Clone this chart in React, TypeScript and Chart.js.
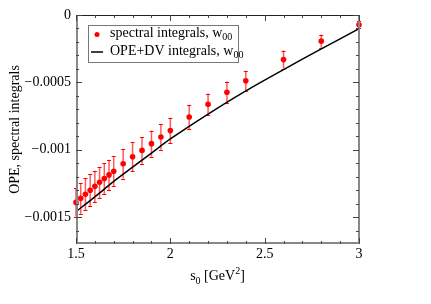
import React, { useEffect, useRef } from 'react';
import { Chart, registerables } from 'chart.js';

Chart.register(...registerables);

const s0Values = [1.5, 1.525, 1.55, 1.575, 1.6, 1.625, 1.65, 1.675, 1.7, 1.75, 1.8, 1.85, 1.9, 1.95, 2.0, 2.1, 2.2, 2.3, 2.4, 2.6, 2.8, 3.0];
const spectralValues = [-0.001391, -0.001361, -0.001331, -0.001301, -0.001272, -0.001242, -0.001214, -0.001187, -0.00116, -0.001104, -0.001052, -0.001005, -0.000955, -0.000906, -0.000858, -0.000757, -0.000662, -0.000574, -0.000488, -0.000331, -0.000194, -0.0000724];
const spectralErrors = [0.000105, 0.000115, 0.00012, 0.000118, 0.000116, 0.000115, 0.000114, 0.000113, 0.000112, 0.00011, 0.000107, 0.0001, 0.000097, 0.000095, 0.000095, 0.00009, 0.000079, 0.00008, 0.000075, 0.000067, 0.000049, 0.000026];

const opeS0 = [1.5, 1.6, 1.7, 1.8, 1.9, 2.0, 2.2, 2.4, 2.6, 2.8, 3.0];
const opeValues = [-0.00146, -0.00135, -0.001235, -0.00113, -0.001025, -0.00092, -0.000735, -0.000563, -0.000405, -0.000252, -0.000102];

const xTicks = [1.5, 2, 2.5, 3];
const xTickLabels = ['1.5', '2', '2.5', '3'];
const yTicks = [-0.0015, -0.001, -0.0005, 0];
const yTickLabels = ['\u22120.0015', '\u22120.001', '\u22120.0005', '0'];
const xMinorTicks = [1.6, 1.7, 1.8, 1.9, 2.1, 2.2, 2.3, 2.4, 2.6, 2.7, 2.8, 2.9];
const yMinorTicks = [-0.0016, -0.0014, -0.0013, -0.0012, -0.0011, -0.0009, -0.0008, -0.0007, -0.0006, -0.0004, -0.0003, -0.0002, -0.0001];

const X_MIN = 1.5, X_MAX = 3;
const Y_MIN = -0.0017, Y_MAX = 0;

const FONT = "'Liberation Serif', 'Times New Roman', serif";
const RED = '#ff0000';

type Part = { text: string; size: number; dy: number };

function drawRich(ctx: CanvasRenderingContext2D, parts: Part[], x: number, y: number, align: 'left' | 'center') {
  let total = 0;
  for (const p of parts) {
    ctx.font = `${p.size}px ${FONT}`;
    total += ctx.measureText(p.text).width;
  }
  let cx = align === 'center' ? x - total / 2 : x;
  ctx.textBaseline = 'alphabetic';
  ctx.textAlign = 'left';
  for (const p of parts) {
    ctx.font = `${p.size}px ${FONT}`;
    ctx.fillText(p.text, cx, y + p.dy);
    cx += ctx.measureText(p.text).width;
  }
}

const decorPlugin = {
  id: 'decor',
  beforeDatasetsDraw(chart: any) {
    const ctx = chart.ctx as CanvasRenderingContext2D;
    const xs = chart.scales.x;
    const ys = chart.scales.y;
    ctx.save();
    ctx.strokeStyle = 'rgba(255,0,0,0.65)';
    ctx.lineWidth = 1.5;
    for (let i = 0; i < s0Values.length; i++) {
      const px = xs.getPixelForValue(s0Values[i]);
      const top = ys.getPixelForValue(spectralValues[i] + spectralErrors[i]);
      const bot = ys.getPixelForValue(spectralValues[i] - spectralErrors[i]);
      ctx.beginPath();
      ctx.moveTo(px, top);
      ctx.lineTo(px, bot);
      ctx.stroke();
    }
    ctx.strokeStyle = RED;
    ctx.lineWidth = 1;
    for (let i = 0; i < s0Values.length; i++) {
      const px = xs.getPixelForValue(s0Values[i]);
      const top = Math.round(ys.getPixelForValue(spectralValues[i] + spectralErrors[i])) + 0.5;
      const bot = Math.round(ys.getPixelForValue(spectralValues[i] - spectralErrors[i])) + 0.5;
      ctx.beginPath();
      ctx.moveTo(px - 2, top);
      ctx.lineTo(px + 2, top);
      ctx.moveTo(px - 2, bot);
      ctx.lineTo(px + 2, bot);
      ctx.stroke();
    }
    ctx.restore();
  },
  afterDraw(chart: any) {
    const ctx = chart.ctx as CanvasRenderingContext2D;
    const a = chart.chartArea;
    const xs = chart.scales.x;
    const ys = chart.scales.y;
    ctx.save();
    // frame
    ctx.strokeStyle = '#888888';
    ctx.lineWidth = 2;
    ctx.beginPath();
    ctx.moveTo(a.left + 1, a.top);
    ctx.lineTo(a.left + 1, a.bottom - 1);
    ctx.lineTo(a.right, a.bottom - 1);
    ctx.lineTo(a.right, a.top);
    ctx.stroke();
    ctx.strokeStyle = '#222222';
    ctx.lineWidth = 1;
    ctx.beginPath();
    ctx.moveTo(a.left, a.top + 0.5);
    ctx.lineTo(a.right + 1, a.top + 0.5);
    ctx.stroke();
    // ticks
    ctx.strokeStyle = '#444444';
    ctx.lineWidth = 1;
    const tickX = (v: number, len: number) => {
      const px = Math.round(xs.getPixelForValue(v)) + 0.5;
      ctx.beginPath();
      ctx.moveTo(px, a.bottom);
      ctx.lineTo(px, a.bottom - len);
      ctx.moveTo(px, a.top);
      ctx.lineTo(px, a.top + len);
      ctx.stroke();
    };
    const tickY = (v: number, len: number) => {
      const py = Math.round(ys.getPixelForValue(v)) + 0.5;
      ctx.beginPath();
      ctx.moveTo(a.left, py);
      ctx.lineTo(a.left + len, py);
      ctx.moveTo(a.right, py);
      ctx.lineTo(a.right - len, py);
      ctx.stroke();
    };
    xTicks.forEach((v) => tickX(v, 6));
    xMinorTicks.forEach((v) => tickX(v, 3));
    yTicks.forEach((v) => tickY(v, 6));
    yMinorTicks.forEach((v) => tickY(v, 3));

    // axis titles
    ctx.fillStyle = '#000000';
    const cxArea = (a.left + a.right) / 2;
    drawRich(ctx, [
      { text: 's', size: 14, dy: 0 },
      { text: '0', size: 10, dy: 4 },
      { text: ' [GeV', size: 14, dy: 0 },
      { text: '2', size: 10, dy: -6 },
      { text: ']', size: 14, dy: 0 },
    ], cxArea, 280, 'center');

    ctx.save();
    ctx.translate(18.5, (a.top + a.bottom) / 2);
    ctx.rotate(-Math.PI / 2);
    ctx.font = `14px ${FONT}`;
    ctx.textAlign = 'center';
    ctx.textBaseline = 'alphabetic';
    ctx.fillText('OPE, spectral integrals', 0, 0);
    ctx.restore();

    // legend
    const lx = 88, ly = 25, lw = 150, lh = 37;
    ctx.fillStyle = '#ffffff';
    ctx.fillRect(lx, ly, lw, lh);
    ctx.strokeStyle = '#777777';
    ctx.lineWidth = 1;
    ctx.strokeRect(lx + 0.5, ly + 0.5, lw, lh);
    ctx.fillStyle = RED;
    ctx.beginPath();
    ctx.arc(97, 34.5, 2.5, 0, Math.PI * 2);
    ctx.fill();
    ctx.strokeStyle = '#000000';
    ctx.lineWidth = 1.5;
    ctx.beginPath();
    ctx.moveTo(91, 52);
    ctx.lineTo(103, 52);
    ctx.stroke();
    ctx.fillStyle = '#000000';
    drawRich(ctx, [
      { text: 'spectral integrals, w', size: 14, dy: 0 },
      { text: '00', size: 10, dy: 3 },
    ], 110, 37, 'left');
    drawRich(ctx, [
      { text: 'OPE+DV integrals, w', size: 14, dy: 0 },
      { text: '00', size: 10, dy: 3 },
    ], 110, 55, 'left');
    ctx.restore();
  },
};

export default function App() {
  const ref = useRef<HTMLCanvasElement | null>(null);
  useEffect(() => {
    document.body.style.margin = '0';
    const canvas = ref.current;
    if (!canvas) return;
    const chart = new Chart(canvas, {
      type: 'scatter',
      data: {
        datasets: [
          {
            label: 'spectral integrals, w00',
            data: s0Values.map((x, i) => ({ x, y: spectralValues[i] })),
            backgroundColor: RED,
            borderColor: RED,
            pointRadius: 2.8,
            pointBorderWidth: 0,
            showLine: false,
            clip: false,
          } as any,
          {
            label: 'OPE+DV integrals, w00',
            data: opeS0.map((x, i) => ({ x, y: opeValues[i] })),
            borderColor: '#000000',
            borderWidth: 1.5,
            pointRadius: 0,
            showLine: true,
            tension: 0.3,
            fill: false,
          } as any,
        ],
      },
      options: {
        animation: false,
        responsive: false,
        devicePixelRatio: 1,
        layout: { padding: { left: 0, right: 72, top: 15, bottom: 0 } },
        plugins: { legend: { display: false }, tooltip: { enabled: false } },
        scales: {
          x: {
            type: 'linear',
            min: X_MIN,
            max: X_MAX,
            grid: { display: false, drawTicks: false },
            border: { display: false },
            afterFit: (s: any) => { s.height = 60; },
            afterBuildTicks: (s: any) => { s.ticks = xTicks.map((v) => ({ value: v })); },
            ticks: {
              padding: 2,
              color: '#000000',
              font: { family: FONT, size: 14 },
              maxRotation: 0,
              callback: (v: any) => { const i = xTicks.indexOf(Number(v)); return i >= 0 ? xTickLabels[i] : ''; },
            },
          },
          y: {
            type: 'linear',
            min: Y_MIN,
            max: Y_MAX,
            grid: { display: false, drawTicks: false },
            border: { display: false },
            afterFit: (s: any) => { s.width = 76; },
            afterBuildTicks: (s: any) => { s.ticks = yTicks.map((v) => ({ value: v })); },
            ticks: {
              padding: 5,
              color: '#000000',
              font: { family: FONT, size: 14 },
              callback: (v: any) => {
                const i = yTicks.findIndex((t) => Math.abs(t - Number(v)) < 1e-9);
                return i >= 0 ? yTickLabels[i] : '';
              },
            },
          },
        },
      },
      plugins: [decorPlugin],
    } as any);
    return () => chart.destroy();
  }, []);
  return (
    <div style={{ position: 'absolute', left: 0, top: 0, width: 431, height: 304 }}>
      <canvas ref={ref} width={431} height={304} />
    </div>
  );
}
